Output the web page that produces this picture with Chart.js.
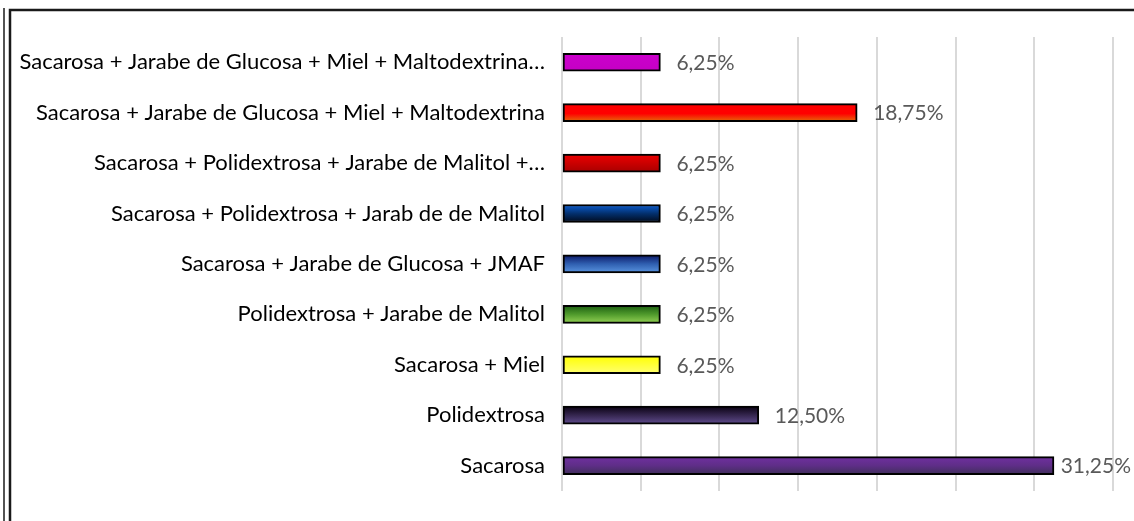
<!DOCTYPE html>
<html>
<head>
<meta charset="utf-8">
<script src="https://cdn.jsdelivr.net/npm/chart.js@4"></script>
<style>
  html, body { margin: 0; padding: 0; background: #fff; }
  #wrap { width: 1134px; height: 521px; }
</style>
</head>
<body>
<div id="wrap"><canvas id="myChart"></canvas></div>
<script>
const categories = [
    'Sacarosa + Jarabe de Glucosa + Miel + Maltodextrina…',
    'Sacarosa + Jarabe de Glucosa + Miel + Maltodextrina',
    'Sacarosa + Polidextrosa + Jarabe de Malitol +…',
    'Sacarosa + Polidextrosa + Jarab de de Malitol',
    'Sacarosa + Jarabe de Glucosa + JMAF',
    'Polidextrosa + Jarabe de Malitol',
    'Sacarosa + Miel',
    'Polidextrosa',
    'Sacarosa'
];
const percentages = [6.25, 18.75, 6.25, 6.25, 6.25, 6.25, 6.25, 12.5, 31.25];
const xTicks = [0, 5, 10, 15, 20, 25, 30, 35];

// top -> bottom colour of each bar's gradient
const barGradients = [
    [[0, '#cc00cc'], [1, '#c400c4']],
    [[0, '#ff0000'], [0.55, '#ff0000'], [1, '#e46c0a']],
    [[0, '#ee0000'], [1, '#a80000']],
    [[0, '#0c5fd4'], [0.5, '#03306e'], [1, '#000a1c']],
    [[0, '#0b1766'], [0.5, '#2f5fb0'], [1, '#5a95e0']],
    [[0, '#1a5c10'], [0.5, '#4f9a2c'], [1, '#95d255']],
    [[0, '#ffff00'], [1, '#ffff70']],
    [[0, '#080010'], [0.5, '#35264f'], [1, '#614d8f']],
    [[0, '#7030a0'], [0.5, '#5f2e88'], [1, '#3f2f5a']]
];

const BAR_H = 18;
const valueFont = '21px Lato';

const frame = {
    id: 'frame',
    beforeDraw(chart) {
        const c = chart.ctx;
        c.save();
        c.fillStyle = '#fff';
        c.fillRect(0, 0, chart.width, chart.height);
        c.strokeStyle = '#1a1a1a';
        c.lineWidth = 1.5;
        c.beginPath();
        c.moveTo(4, 8); c.lineTo(4, chart.height);
        c.stroke();
        c.lineWidth = 2.5;
        c.beginPath();
        c.moveTo(10, chart.height); c.lineTo(10, 10); c.lineTo(chart.width, 10);
        c.stroke();
        c.restore();
    }
};

// value labels outside the bar end, kept inside the canvas
const valueLabels = {
    id: 'valueLabels',
    afterDatasetsDraw(chart) {
        const c = chart.ctx;
        const meta = chart.getDatasetMeta(0);
        c.save();
        c.font = valueFont;
        c.fillStyle = '#595959';
        c.textBaseline = 'middle';
        c.textAlign = 'left';
        meta.data.forEach((el, i) => {
            const txt = percentages[i].toFixed(2).replace('.', ',') + '%';
            const w = c.measureText(txt).width;
            const x = Math.min(el.x + 16, chart.width - 3 - w);
            c.fillText(txt, x, el.y + 1);
        });
        c.restore();
    }
};

new Chart(document.getElementById('myChart'), {
    type: 'bar',
    data: {
        labels: categories,
        datasets: [{
            data: percentages,
            barThickness: BAR_H,
            borderColor: '#000',
            borderWidth: 2,
            borderSkipped: false,
            backgroundColor: (ctx) => {
                const chart = ctx.chart;
                if (!chart.chartArea) return '#888';
                const yc = chart.scales.y.getPixelForValue(ctx.dataIndex);
                const g = chart.ctx.createLinearGradient(0, yc - BAR_H / 2, 0, yc + BAR_H / 2);
                barGradients[ctx.dataIndex].forEach(s => g.addColorStop(s[0], s[1]));
                return g;
            }
        }]
    },
    options: {
        indexAxis: 'y',
        responsive: true,
        maintainAspectRatio: false,
        animation: false,
        layout: { padding: { top: 37, bottom: 24, right: 21, left: 0 } },
        plugins: {
            legend: { display: false },
            tooltip: { enabled: false }
        },
        scales: {
            x: {
                min: 0,
                max: 35,
                afterBuildTicks: (scale) => { scale.ticks = xTicks.map(v => ({ value: v })); },
                ticks: { display: false },
                border: { display: false },
                grid: { color: '#d9d9d9', lineWidth: 2, drawTicks: false }
            },
            y: {
                afterFit: (scale) => { scale.width = 562; },
                border: { display: false },
                grid: { display: false, drawTicks: false },
                ticks: {
                    color: '#000',
                    padding: 17,
                    font: { family: 'Lato', size: 22 }
                }
            }
        }
    },
    plugins: [frame, valueLabels]
});
</script>
</body>
</html>
